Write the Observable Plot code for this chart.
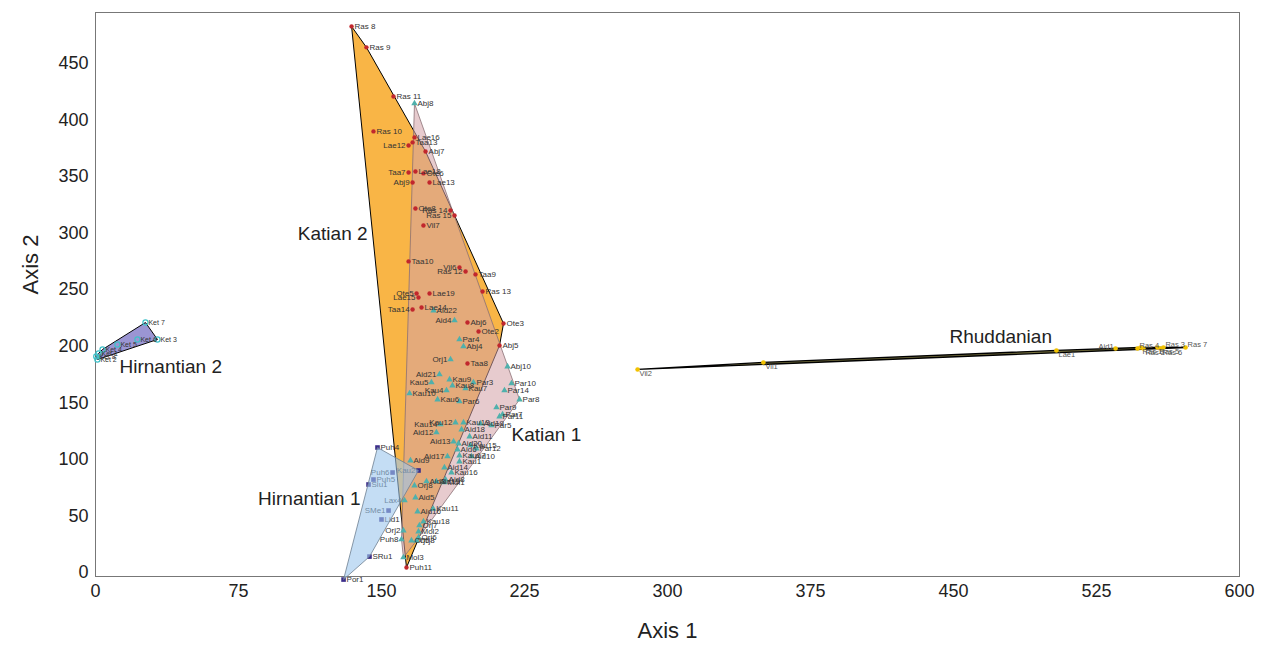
<!DOCTYPE html>
<html><head><meta charset="utf-8">
<script src="https://cdn.jsdelivr.net/npm/d3@7"></script>
<script src="https://cdn.jsdelivr.net/npm/@observablehq/plot@0.6"></script>
<style>body{margin:0;background:#fff;} svg{display:block}</style>
</head><body><div id="chart"></div>
<script>
// ---- Katian 2 ----
const katian2Names = ["Ras 8","Ras 9","Ras 11","Ras 10","Lae16","Taa13","Lae12","Abj7","Lae18","Taa7","Ote6","Abj9","Lae13","Ote8","Ras 14","Ras 15","Vil7","Taa10","Vil6","Ras 12","Taa9","Ras 13","Ote5","Lae19","Lae15","Lae14","Taa14","Abj6","Ote3","Ote2","Abj5","Taa8","Puh11"];
const katian2X = [134.3,142.1,156.3,145.8,167.3,166.3,164.2,173.1,167.8,164.2,172.0,166.3,175.2,167.8,186.2,188.3,172.0,164.2,190.9,194.1,199.3,203.0,168.4,175.2,169.4,171.0,166.3,195.1,214.0,200.9,211.9,195.1,163.1];
const katian2Y = [482.7,464.2,420.8,389.9,384.6,380.2,377.5,372.2,354.5,353.6,352.8,344.8,344.8,321.8,320.0,315.6,306.8,275.0,269.6,266.1,263.5,248.4,246.7,246.7,243.1,234.3,232.5,221.0,220.1,213.1,200.7,184.8,4.4];

// ---- Katian 1 ----
const katian1Names = ["Abj8","Aid22","Aid4","Par4","Abj4","Orj1","Abj10","Aid21","Kau9","Kau5","Kau8","Par3","Kau7","Par10","Kau4","Kau10","Par14","Kau6","Par6","Par8","Par9","Par7","Par11","Kau12","Kau13","Kau14","Aid18","Aid19","Par5","Aid12","Aid11","Aid13","Aid20","Kau15","Par12","Aid6","Kau17","Aid10","Kau1","Aid17","Aid9","Aid14","Kau16","Mol1","Aid3","Aid15","Aid8","Orj8","Aid5","Kau11","Aid16","Kau18","Orj7","Mol2","Orj2","Orj6","Puh8","Orj5","Orj3","Mol3","Lax4"];
const katian1X = [167.3,177.3,188.3,190.9,193.0,186.2,216.1,180.4,185.7,176.2,187.2,198.2,194.1,218.2,184.1,164.7,214.5,179.4,190.9,222.4,210.3,213.5,211.9,188.8,193.0,180.9,192.0,201.9,207.7,178.8,196.2,187.8,190.4,196.7,199.8,189.9,190.9,197.2,190.9,184.6,165.2,183.0,186.7,183.0,173.6,178.8,183.6,167.3,167.8,177.1,168.9,172.0,169.9,169.4,161.5,169.4,160.5,165.7,168.4,161.5,162.1];
const katian1Y = [414.6,231.6,222.8,206.0,199.8,188.3,182.1,175.1,170.6,168.0,165.3,168.0,162.7,167.1,160.9,158.3,160.9,152.9,151.2,152.9,145.9,139.7,137.9,132.6,132.6,130.9,126.4,131.7,130.0,123.8,120.2,115.8,114.0,112.3,109.6,108.7,103.4,102.6,98.1,102.6,99.0,92.8,88.4,79.6,80.5,80.5,82.2,76.9,66.3,56.3,53.9,45.1,41.6,36.2,37.1,30.9,29.2,28.3,28.3,13.3,63.7];

// ---- Hirnantian 1 ----
const hirn1Names = ["Puh4","Puh6","Kau2","Puh5","Siu1","SMe1","Lid1","SRu1","Por1"];
const hirn1X = [147.9,155.8,169.4,145.8,143.2,153.7,150.0,143.7,130.1];
const hirn1Y = [110.5,88.4,90.2,82.2,77.8,54.8,46.9,14.1,-6.2];

// ---- Hirnantian 2 ----
const hirn2Names = ["Ket 7","Ket 3","Ket 6","Ket 5","Ket 4","Ket 1","Ket 2","Ket 8"];
const hirn2X = [26.2,32.5,22.0,11.5,3.7,1.6,1.0,0.4];
const hirn2Y = [221.0,206.0,206.0,201.6,197.2,193.6,188.3,191.0];

// ---- Rhuddanian ----
const rhudNames = ["Vil2","Vil1","Lae1","Aid1","Ras 4","Ras 1","Ras 2","Ras 5","Ras 6","Ras 3","Ras 7"];
const rhudX = [284.3,350.3,504.0,535.0,546.5,548.1,549.6,557.0,558.6,560.1,571.7];
const rhudY = [179.5,185.7,196.3,198.0,198.0,198.9,198.0,198.9,198.0,198.9,198.9];

// group captions
const groupNames = ["Katian 2","Katian 1","Hirnantian 1","Hirnantian 2","Rhuddanian"];
const groupLabelX = [142.7,218.2,139.0,12.6,447.9];
const groupLabelY = [299.7,122.0,65.4,182.1,208.6];

const xTicks = [0,75,150,225,300,375,450,525,600];
const yTicks = [0,50,100,150,200,250,300,350,400,450];

// labels drawn to the left of their marker / above / below
const leftLabels = new Set(["Lae12","Taa7","Abj9","Ote5","Lae15","Taa14","Ras 12","Vil6","Ras 15","Ras 14","Aid4","Orj1","Aid21","Kau5","Kau4","Kau12","Kau14","Aid12","Aid13","Aid17","Orj2","Puh8","Lax4","Puh6","Kau2","SMe1","Aid1"]);
const aboveLabels = new Set(["Ras 4","Aid1","Ras 3","Ras 7"]);

const rows = (names, xs, ys) => names.map((n, i) => ({name: n, x: xs[i], y: ys[i]}));
const k2 = rows(katian2Names, katian2X, katian2Y);
const k1 = rows(katian1Names, katian1X, katian1Y);
const h1 = rows(hirn1Names, hirn1X, hirn1Y);
const h2 = rows(hirn2Names, hirn2X, hirn2Y);
const rh = rows(rhudNames, rhudX, rhudY);
const groupsT = groupNames.map((n, i) => ({name: n, x: groupLabelX[i], y: groupLabelY[i]}));

const labelMarks = (data, opts = {}) => [
  Plot.text(data.filter(d => !leftLabels.has(d.name)), {x: "x", y: "y", text: "name", textAnchor: "start", dx: 3, fontSize: 8, fill: "#333", ...opts}),
  Plot.text(data.filter(d => leftLabels.has(d.name)), {x: "x", y: "y", text: "name", textAnchor: "end", dx: -3, fontSize: 8, fill: "#333", ...opts})
];

const plot = Plot.plot({
  width: 1265, height: 653,
  marginLeft: 95, marginRight: 26, marginTop: 12, marginBottom: 77,
  x: {domain: [0, 600], ticks: xTicks, label: null},
  y: {domain: [-3.5, 495], ticks: yTicks, label: null},
  style: {fontFamily: "'Liberation Sans', Arial, sans-serif", background: "#fff"},
  marks: [
    Plot.frame({stroke: "#777"}),
    Plot.axisX({ticks: xTicks, tickSize: 0, tickPadding: 8, fontSize: 18, fill: "#222", label: null}),
    Plot.axisY({ticks: yTicks, tickSize: 0, tickPadding: 7, fontSize: 18, fill: "#222", label: null}),
    Plot.text(["Axis 1"], {frameAnchor: "bottom", dy: 61, fontSize: 22, fill: "#222"}),
    Plot.text(["Axis 2"], {frameAnchor: "left", dx: -65, rotate: -90, fontSize: 22, fill: "#222"}),
    // hulls
    Plot.hull(k2, {x: "x", y: "y", fill: "#f9b546", stroke: "#000", strokeWidth: 1}),
    Plot.hull(k1, {x: "x", y: "y", fill: "#d3a0a6", fillOpacity: 0.55, stroke: "#8a7075", strokeWidth: 0.8}),
    Plot.hull(rh, {x: "x", y: "y", fill: "#7a7440", stroke: "#000", strokeWidth: 1.3}),
    Plot.hull(h2, {x: "x", y: "y", fill: "#9b95d3", stroke: "#000", strokeWidth: 1}),
    // Katian points
    Plot.dot(k2, {x: "x", y: "y", r: 2.2, fill: "#c1272d"}),
    Plot.dot(k1, {x: "x", y: "y", r: 2.4, symbol: "triangle", fill: "#4fb0ac"}),
    ...labelMarks(k2),
    ...labelMarks(k1),
    // Rhuddanian
    Plot.dot(rh, {x: "x", y: "y", r: 2.3, fill: "#f2c200"}),
    Plot.text(rh.filter(d => !aboveLabels.has(d.name) && !leftLabels.has(d.name)), {x: "x", y: "y", text: "name", textAnchor: "start", dx: 2, dy: 4, fontSize: 7.5, fill: "#555"}),
    Plot.text(rh.filter(d => aboveLabels.has(d.name) && !leftLabels.has(d.name)), {x: "x", y: "y", text: "name", textAnchor: "start", dx: 2, dy: -3, fontSize: 7.5, fill: "#555"}),
    Plot.text(rh.filter(d => leftLabels.has(d.name)), {x: "x", y: "y", text: "name", textAnchor: "end", dx: -2, dy: -2, fontSize: 7.5, fill: "#555"}),
    // Hirnantian 2
    Plot.dot(h2, {x: "x", y: "y", r: 2.6, stroke: "#3fc1c9", strokeWidth: 1.2, fill: "none"}),
    ...labelMarks(h2, {fontSize: 7, fill: "#333"}),
    // Hirnantian 1
    Plot.dot(h1, {x: "x", y: "y", r: 2.6, symbol: "square", fill: "#3b2d8a"}),
    ...labelMarks(h1),
    Plot.hull(h1, {x: "x", y: "y", fill: "#9cc6ec", fillOpacity: 0.6, stroke: "#6d7f90", strokeWidth: 0.8}),
    // group captions
    Plot.text(groupsT.filter(d => d.name === "Katian 2" || d.name === "Hirnantian 1"), {x: "x", y: "y", text: "name", textAnchor: "end", fontSize: 19, fill: "#222"}),
    Plot.text(groupsT.filter(d => !(d.name === "Katian 2" || d.name === "Hirnantian 1")), {x: "x", y: "y", text: "name", textAnchor: "start", fontSize: 19, fill: "#222"})
  ]
});
document.getElementById("chart").appendChild(plot);
</script>
</body></html>
